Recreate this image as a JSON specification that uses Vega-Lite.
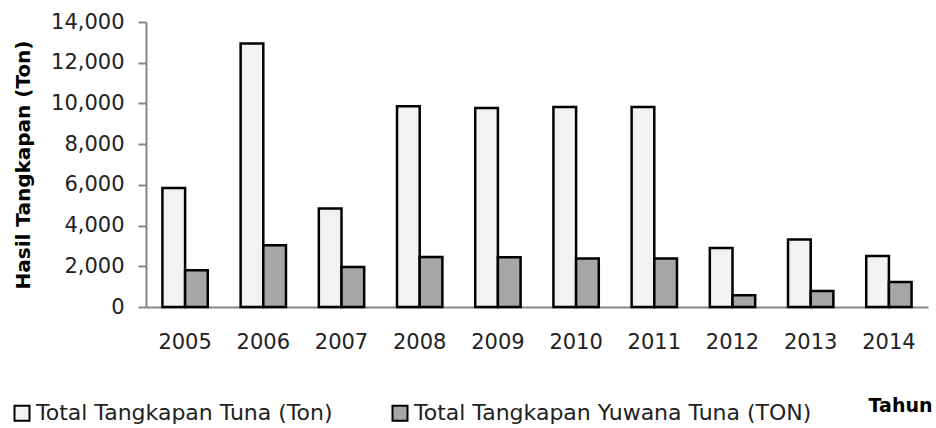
{
  "$schema": "https://vega.github.io/schema/vega-lite/v6.json",
  "width": 782,
  "height": 285,
  "autosize": {"type": "none"},
  "padding": {"left": 146, "top": 22, "right": 8, "bottom": 121},
  "background": "white",
  "config": {"view": {"stroke": null}, "font": "DejaVu Sans"},
  "data": {
    "values": [
      {"year": "2005", "series": "Total Tangkapan Tuna (Ton)", "value": 5850},
      {"year": "2005", "series": "Total Tangkapan Yuwana Tuna (TON)", "value": 1800},
      {"year": "2006", "series": "Total Tangkapan Tuna (Ton)", "value": 12940},
      {"year": "2006", "series": "Total Tangkapan Yuwana Tuna (TON)", "value": 3030},
      {"year": "2007", "series": "Total Tangkapan Tuna (Ton)", "value": 4840},
      {"year": "2007", "series": "Total Tangkapan Yuwana Tuna (TON)", "value": 1970},
      {"year": "2008", "series": "Total Tangkapan Tuna (Ton)", "value": 9860},
      {"year": "2008", "series": "Total Tangkapan Yuwana Tuna (TON)", "value": 2460},
      {"year": "2009", "series": "Total Tangkapan Tuna (Ton)", "value": 9780},
      {"year": "2009", "series": "Total Tangkapan Yuwana Tuna (TON)", "value": 2450},
      {"year": "2010", "series": "Total Tangkapan Tuna (Ton)", "value": 9830},
      {"year": "2010", "series": "Total Tangkapan Yuwana Tuna (TON)", "value": 2380},
      {"year": "2011", "series": "Total Tangkapan Tuna (Ton)", "value": 9830},
      {"year": "2011", "series": "Total Tangkapan Yuwana Tuna (TON)", "value": 2380},
      {"year": "2012", "series": "Total Tangkapan Tuna (Ton)", "value": 2900},
      {"year": "2012", "series": "Total Tangkapan Yuwana Tuna (TON)", "value": 580},
      {"year": "2013", "series": "Total Tangkapan Tuna (Ton)", "value": 3310},
      {"year": "2013", "series": "Total Tangkapan Yuwana Tuna (TON)", "value": 790},
      {"year": "2014", "series": "Total Tangkapan Tuna (Ton)", "value": 2500},
      {"year": "2014", "series": "Total Tangkapan Yuwana Tuna (TON)", "value": 1230}
    ]
  },
  "mark": {"type": "bar", "stroke": "black", "strokeWidth": 2.5},
  "encoding": {
    "x": {
      "field": "year",
      "type": "nominal",
      "scale": {"paddingInner": 0.42, "paddingOuter": 0.21},
      "axis": {
        "title": "Tahun",
        "titleFont": "DejaVu Sans",
        "titleFontSize": 19,
        "titleFontWeight": "bold",
        "titleColor": "black",
        "titleAnchor": null,
        "titleAlign": "center",
        "titleBaseline": "middle",
        "titleX": 754,
        "titleY": 98,
        "labelAngle": 0,
        "labelFontSize": 21,
        "labelColor": "#222222",
        "labelPadding": 24,
        "ticks": false,
        "domainColor": "#868686",
        "domainWidth": 2
      }
    },
    "xOffset": {
      "field": "series",
      "type": "nominal",
      "sort": ["Total Tangkapan Tuna (Ton)", "Total Tangkapan Yuwana Tuna (TON)"],
      "scale": {"paddingInner": 0, "paddingOuter": 0}
    },
    "y": {
      "field": "value",
      "type": "quantitative",
      "scale": {"domain": [0, 14000]},
      "axis": {
        "values": [0, 2000, 4000, 6000, 8000, 10000, 12000, 14000],
        "format": ",.0f",
        "title": "Hasil Tangkapan (Ton)",
        "titleFontSize": 20,
        "titleFontWeight": "bold",
        "titleColor": "black",
        "titleX": -113,
        "titleBaseline": "bottom",
        "labelFontSize": 21,
        "labelColor": "#222222",
        "labelPadding": 14,
        "tickSize": 8,
        "tickColor": "#868686",
        "tickWidth": 2,
        "domainColor": "#868686",
        "domainWidth": 2,
        "grid": false
      }
    },
    "color": {
      "field": "series",
      "type": "nominal",
      "scale": {
        "domain": ["Total Tangkapan Tuna (Ton)", "Total Tangkapan Yuwana Tuna (TON)"],
        "range": ["#f2f2f2", "#a6a6a6"]
      },
      "legend": {
        "title": null,
        "orient": "none",
        "direction": "horizontal",
        "legendX": -135,
        "legendY": 380,
        "symbolType": "square",
        "symbolSize": 225,
        "symbolStrokeColor": "black",
        "symbolStrokeWidth": 2,
        "labelFontSize": 22,
        "labelColor": "#222222",
        "labelOffset": 3,
        "labelLimit": 500,
        "columnPadding": 55
      }
    }
  }
}
